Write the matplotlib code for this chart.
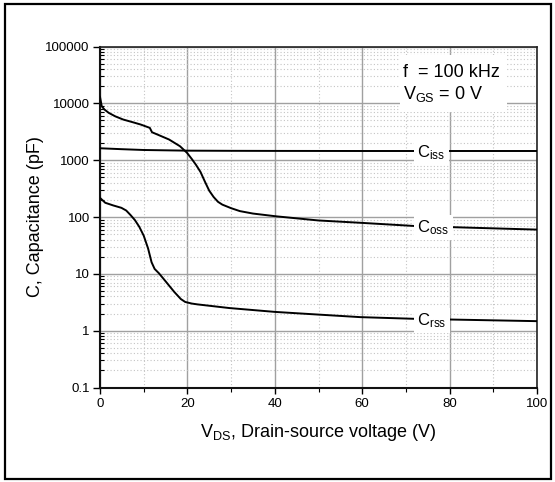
import numpy as np
import matplotlib
matplotlib.use('Agg')
import matplotlib.pyplot as plt
from matplotlib.patches import Rectangle
from matplotlib.ticker import FixedLocator, LogLocator, FuncFormatter, NullFormatter

plt.rcParams['font.family'] = ['Liberation Sans', 'DejaVu Sans']
plt.rcParams['mathtext.fontset'] = 'custom'
plt.rcParams['mathtext.rm'] = 'Liberation Sans'
plt.rcParams['mathtext.it'] = 'Liberation Sans'

# data (V, pF)
vds_iss = [0, 5, 10, 20, 30, 40, 60, 80, 100]
c_iss = [1620, 1560, 1510, 1470, 1460, 1455, 1450, 1450, 1450]

vds_oss = [0, 0.4, 1.0, 2.0, 3.5, 5.3, 7.5, 9.3, 11.4, 11.9, 13.5, 15.8, 18.3,
           19.9, 21.0, 22.0, 23.0, 24.0, 25.0, 26.0, 27.0, 28.0, 30.0, 32.0,
           35.0, 40.2, 49.9, 59.7, 72.6, 100]
c_oss = [13000, 8900, 7800, 6800, 5900, 5190, 4650, 4240, 3700, 3100, 2750, 2310, 1760,
         1350, 1050, 820, 620, 420, 290, 225, 185, 165, 143, 127,
         115, 103, 87, 79, 69, 60]

vds_rss = [0, 1.2, 3.0, 4.9, 6.0, 7.0, 8.0, 9.0, 10.0, 11.0, 11.8, 12.5, 13.5,
           15.0, 17.0, 18.5, 19.5, 21.0, 22.3, 29.6, 40.0, 49.9, 59.6, 72.7, 100]
c_rss = [217, 178, 160, 145, 130, 108, 88, 67, 47, 28, 16, 12.2, 10.2,
         7.4, 4.8, 3.6, 3.2, 3.0, 2.9, 2.5, 2.14, 1.92, 1.73, 1.61, 1.47]

curves = [('iss', vds_iss, c_iss), ('oss', vds_oss, c_oss), ('rss', vds_rss, c_rss)]
label_v = 72.6

fig = plt.figure(figsize=(5.55, 4.82), dpi=100)
ax = fig.add_axes([100 / 555, 1 - 387.5 / 482, 437 / 555, 341 / 482])
ax.set_yscale('log')
ax.set_xlim(0, 100)
ax.set_ylim(0.1, 100000)
ax.set_axisbelow(True)

ax.xaxis.set_major_locator(FixedLocator([0, 20, 40, 60, 80, 100]))
ax.xaxis.set_minor_locator(FixedLocator([10, 30, 50, 70, 90]))
ax.yaxis.set_major_locator(LogLocator(base=10, numticks=10))
ax.yaxis.set_minor_locator(LogLocator(base=10, subs=np.arange(2, 10), numticks=20))
ax.yaxis.set_major_formatter(FuncFormatter(lambda v, p: '%g' % v))
ax.yaxis.set_minor_formatter(NullFormatter())

ax.grid(which='major', color='#a0a0a0', lw=1.0, ls='-')
ax.grid(which='minor', color='#c4c4c4', lw=0.8, ls=(0, (1, 2)))

ax.tick_params(which='major', axis='y', direction='out', length=5, width=1, pad=2.4, labelsize=9.5)
ax.tick_params(which='minor', axis='y', direction='in', length=3, width=0.8)
ax.tick_params(which='major', axis='x', direction='out', length=4.5, width=1, pad=3, labelsize=9.5)
ax.tick_params(which='minor', axis='x', direction='out', length=3, width=0.8)

for side in ['left', 'bottom']:
    ax.spines[side].set_linewidth(1.5)
    ax.spines[side].set_color('#111111')
for side in ['top', 'right']:
    ax.spines[side].set_linewidth(1.2)
    ax.spines[side].set_color('#222222')

for name, v, c in curves:
    ax.plot(v, c, color='black', lw=1.4, zorder=3)
    yl = 10 ** np.interp(label_v, v, np.log10(c))
    ax.annotate(r'C$_{\mathrm{%s}}$' % name, xy=(label_v, yl), xytext=(0, -4.3),
                textcoords='offset points', ha='left', va='baseline', fontsize=12,
                zorder=4, bbox=dict(boxstyle='square,pad=0.2', fc='white', ec='none'))

# condition box
ax.add_patch(Rectangle((0.6865, 0.808), 0.2445, 0.167, transform=ax.transAxes,
                       facecolor='white', edgecolor='none', zorder=2))
ax.text(0.693, 0.9106, 'f  = 100 kHz', transform=ax.transAxes, fontsize=13,
        ha='left', va='baseline', zorder=4)
ax.text(0.693, 0.846, r'V$_{\mathrm{GS}}$ = 0 V', transform=ax.transAxes, fontsize=13,
        ha='left', va='baseline', zorder=4)

ax.set_xlabel(r'V$_{\mathrm{DS}}$, Drain-source voltage (V)', fontsize=13, labelpad=9)
ax.set_ylabel('C, Capacitance (pF)', fontsize=13, labelpad=1)

fig.patches.append(Rectangle((5 / 555, 3 / 482), 546 / 555, 475 / 482,
                             transform=fig.transFigure, fill=False,
                             edgecolor='black', lw=1.6))

fig.savefig('out.png', dpi=100)
